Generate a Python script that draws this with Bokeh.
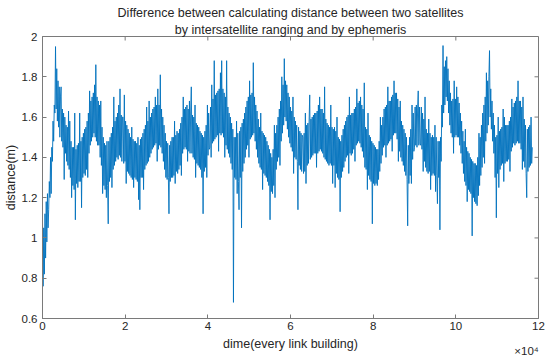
import numpy as np
from bokeh.plotting import figure
from bokeh.models import Range1d, FixedTicker, Title, LinearAxis
from bokeh.embed import file_html
from bokeh.resources import INLINE

title_line1 = "Difference between calculating distance between two satellites"
title_line2 = "by intersatellite ranging and by ephemeris"
x_label = "dime(every link building)"
y_label = "distance(m)"
x_exponent = "\u00d710\u2074"
x_ticks = [0, 20000, 40000, 60000, 80000, 100000, 120000]
x_tick_labels = ["0", "2", "4", "6", "8", "10", "12"]
y_ticks = [0.6, 0.8, 1.0, 1.2, 1.4, 1.6, 1.8, 2.0]
y_tick_labels = ["0.6", "0.8", "1", "1.2", "1.4", "1.6", "1.8", "2"]

# samples, one every 150 link buildings
dime_start = 0
dime_step = 150
distance = [
    1.10, 0.76, 1.05, 0.82, 1.12, 0.90, 1.18, 0.98, 1.22, 1.05,
    1.14, 1.28, 1.20, 1.40, 1.22, 1.45, 1.38, 1.58, 1.48, 1.66,
    1.62, 1.95, 1.64, 1.84, 1.58, 1.78, 1.55, 1.75, 1.50, 1.70,
    1.75, 1.48, 1.64, 1.45, 1.62, 1.29, 1.60, 1.42, 1.56, 1.38,
    1.55, 1.36, 1.63, 1.34, 1.58, 1.30, 1.48, 1.20, 1.45, 1.26,
    1.45, 1.24, 1.62, 1.09, 1.44, 1.27, 1.46, 1.25, 1.47, 1.28,
    1.62, 1.28, 1.48, 1.15, 1.50, 1.30, 1.52, 1.32, 1.54, 1.31,
    1.55, 1.34, 1.58, 1.30, 1.62, 1.42, 1.73, 1.46, 1.68, 1.48,
    1.70, 1.50, 1.72, 1.52, 1.76, 1.50, 1.86, 1.48, 1.70, 1.46,
    1.68, 1.46, 1.66, 1.40, 1.68, 1.36, 1.55, 1.22, 1.50, 1.26,
    1.47, 1.24, 1.46, 1.20, 1.48, 1.26, 1.07, 1.48, 1.28, 1.50,
    1.30, 1.52, 1.25, 1.55, 1.34, 1.70, 1.36, 1.58, 1.38, 1.60,
    1.40, 1.62, 1.39, 1.66, 1.41, 1.74, 1.40, 1.61, 1.38, 1.60,
    1.60, 1.37, 1.71, 1.38, 1.58, 1.27, 1.56, 1.33, 1.54, 1.32,
    1.52, 1.31, 1.50, 1.30, 1.55, 1.29, 1.49, 1.25, 1.48, 1.30,
    1.48, 1.29, 1.47, 1.28, 1.50, 1.19, 1.46, 1.14, 1.49, 1.30,
    1.50, 1.30, 1.52, 1.24, 1.54, 1.34, 1.56, 1.36, 1.65, 1.37,
    1.58, 1.38, 1.68, 1.40, 1.60, 1.42, 1.62, 1.44, 1.64, 1.45,
    1.65, 1.46, 1.70, 1.47, 1.66, 1.38, 1.74, 1.44, 1.66, 1.46,
    1.81, 1.45, 1.64, 1.42, 1.60, 1.38, 1.56, 1.34, 1.52, 1.30,
    1.48, 1.29, 1.47, 1.30, 1.12, 1.46, 1.28, 1.48, 1.30, 1.50,
    1.30, 1.50, 1.31, 1.58, 1.27, 1.51, 1.33, 1.53, 1.32, 1.52,
    1.34, 1.54, 1.36, 1.57, 1.31, 1.60, 1.42, 1.70, 1.44, 1.64,
    1.45, 1.65, 1.44, 1.66, 1.38, 1.64, 1.43, 1.68, 1.42, 1.63,
    1.75, 1.42, 1.61, 1.40, 1.60, 1.39, 1.66, 1.30, 1.57, 1.37,
    1.56, 1.36, 1.55, 1.35, 1.53, 1.34, 1.52, 1.30, 1.51, 1.12,
    1.50, 1.33, 1.53, 1.35, 1.56, 1.30, 1.66, 1.41, 1.62, 1.44,
    1.45, 1.65, 1.40, 1.76, 1.47, 1.69, 1.48, 1.88, 1.49, 1.71,
    1.50, 1.72, 1.51, 1.73, 1.43, 1.74, 1.52, 1.82, 1.51, 1.88,
    1.52, 1.74, 1.50, 1.72, 1.40, 1.70, 1.46, 1.88, 1.44, 1.65,
    1.42, 1.62, 1.40, 1.60, 1.37, 1.57, 1.34, 1.54, 0.68, 1.50,
    1.30, 1.50, 1.29, 1.58, 1.22, 1.52, 1.28, 1.14, 1.53, 1.30,
    1.55, 1.05, 1.57, 1.33, 1.59, 1.37, 1.62, 1.40, 1.65, 1.44,
    1.68, 1.46, 1.70, 1.40, 1.78, 1.49, 1.71, 1.50, 1.72, 1.51,
    1.87, 1.52, 1.70, 1.48, 1.66, 1.44, 1.63, 1.40, 1.59, 1.37,
    1.55, 1.35, 1.62, 1.34, 1.53, 1.24, 1.52, 1.32, 1.51, 1.31,
    1.50, 1.30, 1.48, 1.28, 1.46, 1.26, 1.44, 1.09, 1.42, 1.23,
    1.40, 1.22, 1.44, 1.26, 1.56, 1.20, 1.52, 1.34, 1.56, 1.38,
    1.60, 1.40, 1.64, 1.36, 1.68, 1.48, 1.80, 1.52, 1.76, 1.56,
    1.89, 1.60, 1.78, 1.58, 1.76, 1.54, 1.72, 1.50, 1.70, 1.47,
    1.65, 1.45, 1.63, 1.43, 1.70, 1.32, 1.60, 1.40, 1.58, 1.39,
    1.56, 1.38, 1.14, 1.55, 1.36, 1.53, 1.34, 1.52, 1.33, 1.51,
    1.50, 1.32, 1.52, 1.33, 1.62, 1.27, 1.56, 1.36, 1.57, 1.37,
    1.58, 1.71, 1.39, 1.59, 1.40, 1.60, 1.41, 1.61, 1.42, 1.62,
    1.42, 1.62, 1.35, 1.63, 1.42, 1.66, 1.43, 1.70, 1.44, 1.64,
    1.43, 1.64, 1.42, 1.62, 1.40, 1.75, 1.39, 1.59, 1.38, 1.57,
    1.37, 1.56, 1.36, 1.55, 1.37, 1.66, 1.36, 1.55, 1.27, 1.54,
    1.36, 1.55, 1.25, 1.53, 1.32, 1.60, 1.30, 1.50, 1.29, 1.49,
    1.13, 1.48, 1.30, 1.51, 1.33, 1.54, 1.35, 1.56, 1.38, 1.58,
    1.40, 1.60, 1.41, 1.61, 1.32, 1.70, 1.42, 1.61, 1.41, 1.62,
    1.42, 1.62, 1.44, 1.64, 1.38, 1.65, 1.46, 1.74, 1.47, 1.67,
    1.48, 1.68, 1.47, 1.70, 1.45, 1.66, 1.43, 1.64, 1.40, 1.77,
    1.35, 1.55, 1.34, 1.54, 1.24, 1.62, 1.31, 1.51, 1.29, 1.50,
    1.28, 1.48, 1.07, 1.47, 1.27, 1.46, 1.26, 1.45, 1.27, 1.44,
    1.26, 1.44, 1.29, 1.48, 1.33, 1.60, 1.37, 1.56, 1.41, 1.60,
    1.45, 1.64, 1.46, 1.65, 1.40, 1.66, 1.46, 1.75, 1.47, 1.68,
    1.48, 1.68, 1.49, 1.70, 1.43, 1.71, 1.51, 1.78, 1.52, 1.72,
    1.52, 1.72, 1.49, 1.69, 1.38, 1.65, 1.43, 1.68, 1.40, 1.58,
    1.38, 1.56, 1.36, 1.54, 1.33, 1.52, 1.31, 1.50, 1.29, 1.06,
    1.46, 1.27, 1.50, 1.31, 1.54, 1.27, 1.66, 1.39, 1.62, 1.43,
    1.45, 1.65, 1.46, 1.66, 1.45, 1.64, 1.73, 1.46, 1.65, 1.47,
    1.46, 1.65, 1.44, 1.62, 1.33, 1.59, 1.38, 1.70, 1.35, 1.54,
    1.33, 1.52, 1.32, 1.59, 1.33, 1.52, 1.24, 1.50, 1.31, 1.51,
    1.32, 1.50, 1.31, 1.56, 1.23, 1.50, 1.31, 1.17, 1.48, 1.30,
    1.48, 1.04, 1.50, 1.38, 1.66, 1.55, 1.955, 1.62, 1.85, 1.66,
    1.88, 1.70, 1.90, 1.68, 1.84, 1.62, 1.78, 1.56, 1.72, 1.52,
    1.68, 1.50, 1.69, 1.42, 1.78, 1.50, 1.69, 1.51, 1.75, 1.50,
    1.70, 1.50, 1.67, 1.46, 1.62, 1.42, 1.58, 1.37, 1.53, 1.32,
    1.48, 1.28, 1.54, 1.26, 1.45, 1.18, 1.43, 1.24, 1.42, 1.23,
    1.40, 1.22, 1.39, 1.01, 1.38, 1.20, 1.37, 1.18, 1.37, 1.17,
    1.36, 1.16, 1.40, 1.21, 1.52, 1.26, 1.50, 1.31, 1.56, 1.35,
    1.62, 1.40, 1.66, 1.37, 1.70, 1.48, 1.82, 1.52, 1.78, 1.56,
    1.80, 1.93, 1.60, 1.74, 1.54, 1.68, 1.48, 1.62, 1.42, 1.56,
    1.30, 1.50, 1.10, 1.51, 1.32, 1.60, 1.25, 1.53, 1.34, 1.54,
    1.36, 1.55, 1.37, 1.64, 1.28, 1.60, 1.37, 1.56, 1.38, 1.56,
    1.38, 1.56, 1.39, 1.58, 1.33, 1.60, 1.43, 1.69, 1.45, 1.65,
    1.47, 1.67, 1.46, 1.68, 1.47, 1.70, 1.48, 1.78, 1.47, 1.68,
    1.47, 1.68, 1.44, 1.65, 1.34, 1.70, 1.38, 1.59, 1.35, 1.56,
    1.32, 1.20, 1.54, 1.33, 1.55, 1.35, 1.56, 1.36, 1.60, 1.37,
    1.45,
]
dime = dime_start + dime_step * np.arange(len(distance))

TEXT = "#262626"
AXIS = "#7a7a7a"
BLUE = "#0072BD"
FONT = "Liberation Sans"
TICK_FS = "11.5px"
LABEL_FS = "12.5px"

p = figure(width=550, height=360,
           x_range=Range1d(x_ticks[0], x_ticks[-1]),
           y_range=Range1d(y_ticks[0], y_ticks[-1]),
           output_backend="svg", toolbar_location=None,
           min_border_left=41, min_border_right=12,
           min_border_top=36, min_border_bottom=42)
p.xgrid.visible = False
p.ygrid.visible = False
p.outline_line_color = AXIS
p.outline_line_width = 1
p.background_fill_color = "white"
p.border_fill_color = "white"

p.line(dime, distance, line_color=BLUE, line_width=0.9)

# inward ticks on the top and right edges of the box (MATLAB "box on")
tick_px = 4
frame_h_px = 282.0
frame_w_px = 497.0
ylen = (y_ticks[-1] - y_ticks[0]) * tick_px / frame_h_px
xlen = (x_ticks[-1] - x_ticks[0]) * tick_px / frame_w_px
p.segment(x0=x_ticks, x1=x_ticks, y0=[y_ticks[-1]] * len(x_ticks),
          y1=[y_ticks[-1] - ylen] * len(x_ticks), line_color=AXIS, line_width=1)
p.segment(x0=[x_ticks[-1]] * len(y_ticks), x1=[x_ticks[-1] - xlen] * len(y_ticks),
          y0=y_ticks, y1=y_ticks, line_color=AXIS, line_width=1)

def style_axis(ax, ticks, labels):
    ax.ticker = FixedTicker(ticks=ticks)
    ax.major_label_overrides = {t: l for t, l in zip(ticks, labels)}
    ax.axis_line_color = AXIS
    ax.major_tick_line_color = AXIS
    ax.major_tick_in = 4
    ax.major_tick_out = 0
    ax.minor_tick_line_color = None
    ax.major_label_text_color = TEXT
    ax.major_label_text_font = FONT
    ax.major_label_text_font_size = TICK_FS
    ax.axis_label_text_color = TEXT
    ax.axis_label_text_font = FONT
    ax.axis_label_text_font_size = LABEL_FS
    ax.axis_label_text_font_style = "normal"

style_axis(p.xaxis[0], x_ticks, x_tick_labels)
p.xaxis[0].major_label_standoff = 3
p.xaxis[0].axis_label = x_label
p.xaxis[0].axis_label_standoff = 4
style_axis(p.yaxis[0], y_ticks, y_tick_labels)
p.yaxis[0].major_label_standoff = 5
p.yaxis[0].axis_label = y_label
p.yaxis[0].axis_label_standoff = 1

# "x10^4" exponent, right-aligned under the end of the x axis
exp_half_width_px = 12
exp_pos = x_ticks[-1] - (x_ticks[-1] - x_ticks[0]) * exp_half_width_px / frame_w_px
exp_axis = LinearAxis(ticker=FixedTicker(ticks=[exp_pos]),
                      major_label_overrides={exp_pos: x_exponent},
                      axis_line_color=None, major_tick_line_color=None,
                      minor_tick_line_color=None, major_tick_out=0, major_tick_in=0,
                      major_label_standoff=-9, major_label_text_color=TEXT,
                      major_label_text_font=FONT, major_label_text_font_size=TICK_FS)
p.add_layout(exp_axis, "below")

p.add_layout(Title(text=title_line2, align="center", text_font=FONT,
                   text_font_size=LABEL_FS, text_font_style="normal",
                   text_color=TEXT, standoff=0), "above")
p.add_layout(Title(text=title_line1, align="center", text_font=FONT,
                   text_font_size=LABEL_FS, text_font_style="normal",
                   text_color=TEXT, standoff=2), "above")

open("out.html", "w").write(file_html(p, INLINE))
